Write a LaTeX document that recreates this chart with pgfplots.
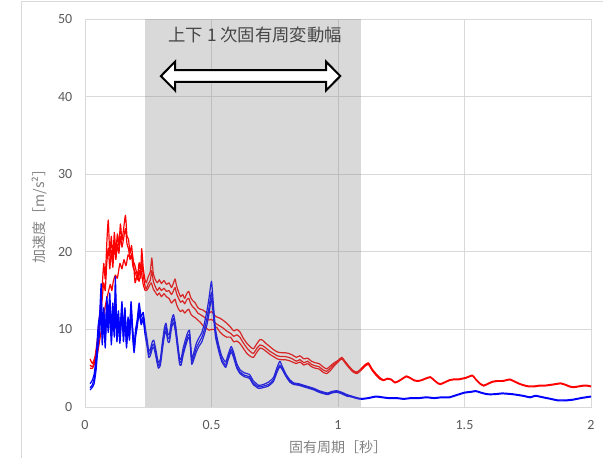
\documentclass[border=0pt]{standalone}
\usepackage{pgfplots}
\pgfplotsset{compat=1.18}
\usepackage{fontspec}
\setmainfont{Carlito}
\newfontfamily\cjk{Noto Sans CJK JP}
\definecolor{tickgray}{RGB}{89,89,89}
\definecolor{labgray}{RGB}{128,128,128}
\definecolor{gridgray}{RGB}{217,217,217}
\definecolor{anntext}{RGB}{70,70,70}
\begin{document}
\begin{tikzpicture}
\useasboundingbox (-63.75pt,-37.5pt) rectangle (388.5pt,305.25pt);
\draw[gridgray, line width=0.75pt] (-47.25pt,-40pt) -- (-47.25pt,303.75pt) -- (390pt,303.75pt);
\begin{axis}[
 scale only axis, width=379.5pt, height=291pt,
 xmin=0, xmax=2, ymin=0, ymax=50,
 xtick={0,0.5,1,1.5,2}, ytick={0,10,20,30,40,50},
 grid=major, major grid style={gridgray, line width=0.75pt},
 axis line style={gridgray, line width=0.75pt},
 tick style={draw=none},
 /pgf/number format/assume math mode=true,
 ticklabel style={font=\fontsize{10.5}{12}\selectfont, text=tickgray},
 xticklabel style={anchor=center, yshift=-13.5pt},
 yticklabel style={anchor=east, xshift=-6pt},
 xlabel={\cjk 固有周期［秒］}, ylabel={\cjk 加速度［m/s²］},
 label style={font=\fontsize{10.5}{12}\selectfont, text=labgray},
 xlabel style={at={(axis description cs:0.5,-0.103)}, anchor=center},
 ylabel style={at={(axis description cs:-0.089,0.5)}, anchor=center},
 every axis plot/.append style={line width=0.9pt, line join=round, smooth, tension=0.3},
]
% red upper
\addplot[red] coordinates {(0.020,6.2)(0.030,5.6)(0.040,6.6)(0.050,9.0)(0.058,12.0)(0.066,14.5)(0.074,18.5)(0.080,16.5)(0.086,21.0)(0.092,24.1)(0.098,19.5)(0.104,22.0)(0.110,19.2)(0.116,22.5)(0.122,20.0)(0.128,22.3)(0.134,20.8)(0.140,23.6)(0.146,21.5)(0.152,22.8)(0.160,24.7)(0.166,22.0)(0.172,21.6)(0.178,19.8)(0.184,20.8)(0.190,18.8)(0.196,18.4)(0.202,17.6)(0.208,17.0)(0.214,18.6)(0.220,17.4)(0.224,20.4)(0.230,18.0)(0.236,16.6)(0.242,16.0)(0.250,16.8)(0.258,17.4)(0.264,19.2)(0.270,17.2)(0.278,16.4)(0.286,16.0)(0.294,16.4)(0.302,15.9)(0.312,16.3)(0.322,15.8)(0.332,16.0)(0.342,15.4)(0.350,16.0)(0.356,16.5)(0.362,15.6)(0.370,14.8)(0.378,14.2)(0.386,14.5)(0.394,14.0)(0.402,14.6)(0.410,14.9)(0.418,14.1)(0.426,13.7)(0.436,13.4)(0.446,12.8)(0.456,12.6)(0.466,12.5)(0.478,12.2)(0.490,12.1)(0.500,12.3)(0.510,11.9)(0.520,11.6)(0.530,11.5)(0.545,11.2)(0.560,10.8)(0.575,10.3)(0.588,9.8)(0.600,10.0)(0.612,9.7)(0.625,8.9)(0.640,8.2)(0.655,7.7)(0.666,7.5)(0.680,8.2)(0.692,8.7)(0.702,8.6)(0.715,8.2)(0.730,7.8)(0.745,7.4)(0.760,7.1)(0.775,7.0)(0.790,7.0)(0.805,6.9)(0.820,6.7)(0.835,6.4)(0.850,6.6)(0.865,6.2)(0.880,6.3)(0.895,5.9)(0.910,5.7)(0.925,5.6)(0.940,5.2)(0.955,4.9)(0.970,5.3)(0.985,5.7)(1.000,6.0)(1.015,6.4)(1.030,5.8)(1.045,5.2)(1.060,4.7)(1.075,4.5)(1.090,4.9)(1.105,5.4)(1.120,5.7)(1.135,4.9)(1.150,4.3)(1.165,3.8)(1.180,3.5)(1.195,3.7)(1.210,3.6)(1.225,3.2)(1.240,3.4)(1.255,3.7)(1.270,4.0)(1.285,3.8)(1.300,3.5)(1.315,3.4)(1.330,3.5)(1.345,3.7)(1.365,3.9)(1.380,3.5)(1.395,3.1)(1.405,3.0)(1.420,3.2)(1.440,3.5)(1.456,3.6)(1.475,3.6)(1.490,3.7)(1.505,3.8)(1.520,4.0)(1.532,4.1)(1.545,3.6)(1.560,3.1)(1.575,2.8)(1.590,3.0)(1.610,3.3)(1.630,3.4)(1.650,3.4)(1.665,3.5)(1.680,3.6)(1.700,3.3)(1.720,3.0)(1.740,2.8)(1.755,2.7)(1.775,2.7)(1.795,2.8)(1.815,2.8)(1.840,2.9)(1.860,3.0)(1.880,3.1)(1.900,2.9)(1.915,2.7)(1.930,2.6)(1.950,2.7)(1.970,2.8)(1.985,2.8)(2.000,2.7)};
% red middle
\addplot[red] coordinates {(0.020,5.4)(0.030,5.2)(0.040,6.2)(0.050,8.2)(0.058,11.0)(0.066,13.2)(0.074,16.0)(0.080,15.0)(0.086,18.5)(0.092,20.5)(0.098,17.8)(0.104,20.2)(0.110,18.0)(0.116,21.0)(0.122,19.0)(0.128,21.0)(0.134,19.8)(0.140,22.0)(0.146,20.6)(0.152,21.6)(0.160,23.0)(0.166,21.0)(0.172,20.4)(0.178,19.0)(0.184,19.6)(0.190,18.0)(0.196,17.6)(0.202,17.0)(0.208,16.4)(0.214,17.6)(0.220,16.6)(0.224,18.8)(0.230,17.0)(0.236,15.8)(0.242,15.2)(0.250,15.9)(0.258,16.3)(0.264,17.6)(0.270,16.2)(0.278,15.5)(0.286,15.0)(0.294,15.4)(0.302,15.0)(0.312,15.3)(0.322,14.9)(0.332,15.0)(0.342,14.5)(0.350,15.0)(0.356,15.4)(0.362,14.6)(0.370,14.0)(0.378,13.5)(0.386,13.7)(0.394,13.3)(0.402,13.8)(0.410,14.0)(0.418,13.3)(0.426,12.9)(0.436,12.6)(0.446,12.1)(0.456,11.9)(0.466,11.7)(0.478,11.4)(0.490,11.2)(0.500,11.3)(0.510,11.0)(0.520,10.7)(0.530,10.5)(0.545,10.2)(0.560,9.8)(0.575,9.5)(0.588,9.1)(0.600,9.3)(0.612,9.0)(0.625,8.3)(0.640,7.6)(0.655,7.1)(0.666,6.9)(0.680,7.6)(0.692,8.0)(0.702,7.9)(0.715,7.6)(0.730,7.2)(0.745,6.9)(0.760,6.6)(0.775,6.5)(0.790,6.5)(0.805,6.4)(0.820,6.2)(0.835,5.9)(0.850,6.1)(0.865,5.7)(0.880,5.9)(0.895,5.5)(0.910,5.3)(0.925,5.2)(0.940,4.8)(0.955,4.6)(0.970,5.0)(0.985,5.5)(1.000,5.9)(1.015,6.3)(1.030,5.7)(1.045,5.1)(1.060,4.6)(1.075,4.4)(1.090,4.8)(1.105,5.3)(1.120,5.6)(1.135,4.8)(1.150,4.2)(1.165,3.7)(1.180,3.4)(1.195,3.6)(1.210,3.5)(1.225,3.1)(1.240,3.3)(1.255,3.6)(1.270,3.9)(1.285,3.7)(1.300,3.4)(1.315,3.3)(1.330,3.4)(1.345,3.6)(1.365,3.8)(1.380,3.4)(1.395,3.0)(1.405,2.9)(1.420,3.1)(1.440,3.4)(1.456,3.5)(1.475,3.5)(1.490,3.6)(1.505,3.7)(1.520,3.9)(1.532,4.0)(1.545,3.5)(1.560,3.0)(1.575,2.7)(1.590,2.9)(1.610,3.2)(1.630,3.3)(1.650,3.3)(1.665,3.4)(1.680,3.5)(1.700,3.2)(1.720,2.9)(1.740,2.7)(1.755,2.6)(1.775,2.6)(1.795,2.7)(1.815,2.7)(1.840,2.8)(1.860,2.9)(1.880,3.0)(1.900,2.8)(1.915,2.6)(1.930,2.5)(1.950,2.6)(1.970,2.7)(1.985,2.7)(2.000,2.6)};
% red lower
\addplot[red] coordinates {(0.020,5.0)(0.030,5.0)(0.040,5.8)(0.050,7.0)(0.060,9.0)(0.070,11.0)(0.080,13.0)(0.090,14.5)(0.100,15.8)(0.106,15.0)(0.112,16.2)(0.120,17.0)(0.128,16.6)(0.138,18.5)(0.146,17.8)(0.154,19.0)(0.162,18.2)(0.170,19.6)(0.178,19.2)(0.186,19.8)(0.192,18.5)(0.198,16.0)(0.206,17.0)(0.214,16.2)(0.222,17.5)(0.230,15.8)(0.238,15.0)(0.246,15.1)(0.254,15.6)(0.262,16.0)(0.270,15.2)(0.278,14.8)(0.286,14.4)(0.294,14.7)(0.302,14.2)(0.312,14.6)(0.322,14.2)(0.332,14.0)(0.342,13.4)(0.350,13.7)(0.356,13.9)(0.362,13.2)(0.370,12.6)(0.378,12.3)(0.386,12.5)(0.394,12.1)(0.402,12.4)(0.410,12.6)(0.418,12.0)(0.426,11.7)(0.436,11.5)(0.446,11.2)(0.456,10.9)(0.466,10.5)(0.478,10.2)(0.490,9.9)(0.500,10.0)(0.510,10.0)(0.520,10.3)(0.530,9.8)(0.545,9.3)(0.560,9.0)(0.575,9.0)(0.588,8.4)(0.600,8.5)(0.612,8.2)(0.625,7.6)(0.640,6.9)(0.655,6.5)(0.666,6.4)(0.680,7.1)(0.692,7.6)(0.702,7.5)(0.715,7.2)(0.730,6.8)(0.745,6.5)(0.760,6.2)(0.775,6.1)(0.790,6.1)(0.805,6.0)(0.820,5.8)(0.835,5.6)(0.850,5.8)(0.865,5.4)(0.880,5.6)(0.895,5.2)(0.910,5.0)(0.925,4.9)(0.940,4.5)(0.955,4.3)(0.970,4.7)(0.985,5.3)(1.000,5.8)(1.015,6.2)(1.030,5.6)(1.045,5.0)(1.060,4.5)(1.075,4.3)(1.090,4.7)(1.105,5.2)(1.120,5.5)(1.135,4.7)(1.150,4.1)(1.165,3.6)(1.180,3.4)};
% blue upper
\addplot[blue] coordinates {(0.020,3.0)(0.028,3.4)(0.036,4.2)(0.044,6.5)(0.052,10.5)(0.058,12.0)(0.064,15.9)(0.068,10.0)(0.074,12.8)(0.080,9.5)(0.086,14.2)(0.092,11.5)(0.098,14.7)(0.104,10.0)(0.110,13.4)(0.116,11.0)(0.120,16.8)(0.126,10.0)(0.132,12.4)(0.138,9.8)(0.146,13.6)(0.152,9.8)(0.158,12.8)(0.164,9.0)(0.170,11.6)(0.176,10.0)(0.182,13.6)(0.188,10.4)(0.194,8.0)(0.200,10.0)(0.206,11.2)(0.214,13.4)(0.222,11.6)(0.230,12.2)(0.238,10.3)(0.246,8.6)(0.252,7.2)(0.258,7.4)(0.266,8.4)(0.272,8.6)(0.280,7.4)(0.290,5.7)(0.298,6.2)(0.306,8.4)(0.314,10.2)(0.320,10.8)(0.328,9.4)(0.334,9.4)(0.342,11.2)(0.350,11.9)(0.358,10.6)(0.366,8.4)(0.374,6.3)(0.380,6.2)(0.388,7.6)(0.398,8.8)(0.406,9.6)(0.413,9.9)(0.418,8.0)(0.422,6.3)(0.430,7.0)(0.440,8.2)(0.452,9.0)(0.462,9.6)(0.472,10.8)(0.482,12.4)(0.490,14.0)(0.500,16.2)(0.508,13.0)(0.516,10.0)(0.527,8.2)(0.540,6.6)(0.556,5.8)(0.566,6.8)(0.578,7.8)(0.588,7.0)(0.600,5.6)(0.613,4.8)(0.630,4.4)(0.650,4.2)(0.665,3.4)(0.686,2.8)(0.705,2.9)(0.725,3.2)(0.745,3.8)(0.758,5.0)(0.770,5.9)(0.780,5.2)(0.795,4.2)(0.810,3.5)(0.825,3.1)(0.845,3.0)(0.865,2.8)(0.885,2.6)(0.905,2.4)(0.925,2.1)(0.945,1.9)(0.960,1.8)(0.975,2.0)(0.995,2.1)(1.015,1.9)(1.035,1.6)(1.055,1.4)(1.075,1.2)(1.095,1.1)(1.120,1.2)(1.150,1.4)(1.175,1.3)(1.200,1.2)(1.230,1.2)(1.260,1.1)(1.290,1.2)(1.320,1.2)(1.350,1.3)(1.380,1.2)(1.410,1.3)(1.440,1.3)(1.470,1.6)(1.500,1.9)(1.525,2.0)(1.545,2.1)(1.565,1.9)(1.590,1.7)(1.620,1.7)(1.650,1.8)(1.690,1.7)(1.730,1.5)(1.760,1.3)(1.780,1.5)(1.810,1.3)(1.840,1.1)(1.870,0.9)(1.900,0.9)(1.930,1.0)(1.960,1.2)(2.000,1.4)};
% blue middle
\addplot[blue] coordinates {(0.020,2.5)(0.028,2.8)(0.036,3.6)(0.044,5.6)(0.052,9.0)(0.058,11.0)(0.064,13.8)(0.068,9.0)(0.074,11.8)(0.080,8.8)(0.086,13.0)(0.092,10.5)(0.098,13.4)(0.104,9.0)(0.110,12.2)(0.116,10.0)(0.120,14.8)(0.126,9.2)(0.132,11.6)(0.138,9.0)(0.146,12.6)(0.152,9.0)(0.158,12.0)(0.164,8.2)(0.170,10.8)(0.176,9.2)(0.182,12.8)(0.188,9.8)(0.194,7.4)(0.200,9.4)(0.206,10.6)(0.214,12.6)(0.222,11.0)(0.230,11.6)(0.238,9.8)(0.246,8.1)(0.252,6.8)(0.258,7.0)(0.266,7.9)(0.272,8.1)(0.280,6.9)(0.290,5.3)(0.298,5.8)(0.306,7.9)(0.314,9.7)(0.320,10.3)(0.328,8.9)(0.334,8.9)(0.342,10.7)(0.350,11.4)(0.358,10.1)(0.366,7.9)(0.374,5.9)(0.380,5.8)(0.388,7.1)(0.398,8.3)(0.406,9.1)(0.413,9.4)(0.418,7.5)(0.422,5.9)(0.430,6.5)(0.440,7.6)(0.452,8.4)(0.462,9.0)(0.472,10.0)(0.482,11.4)(0.490,12.8)(0.500,14.8)(0.508,12.2)(0.516,9.5)(0.527,7.8)(0.540,6.2)(0.556,5.4)(0.566,6.4)(0.578,7.4)(0.588,6.6)(0.600,5.2)(0.613,4.5)(0.630,4.1)(0.650,3.9)(0.665,3.1)(0.686,2.6)(0.705,2.7)(0.725,2.9)(0.745,3.5)(0.758,4.6)(0.770,5.4)(0.780,4.9)(0.795,4.0)(0.810,3.3)(0.825,3.0)(0.845,2.9)(0.865,2.7)(0.885,2.5)(0.905,2.3)(0.925,2.0)(0.945,1.8)(0.960,1.7)(0.975,1.9)(0.995,2.0)(1.015,1.8)(1.035,1.5)(1.055,1.3)(1.075,1.1)(1.095,1.0)(1.120,1.1)(1.150,1.3)(1.175,1.2)(1.200,1.1)(1.230,1.1)(1.260,1.0)(1.290,1.1)(1.320,1.1)(1.350,1.2)(1.380,1.1)(1.410,1.2)(1.440,1.2)(1.470,1.5)(1.500,1.8)(1.525,1.9)(1.545,2.0)(1.565,1.8)(1.590,1.6)(1.620,1.6)(1.650,1.7)(1.690,1.6)(1.730,1.4)(1.760,1.2)(1.780,1.4)(1.810,1.2)(1.840,1.0)(1.870,0.8)(1.900,0.8)(1.930,0.9)(1.960,1.1)(2.000,1.3)};
% blue lower
\addplot[blue] coordinates {(0.020,2.2)(0.028,2.5)(0.036,3.0)(0.044,4.8)(0.052,8.0)(0.058,9.5)(0.064,12.5)(0.068,8.0)(0.074,11.0)(0.080,7.6)(0.086,12.0)(0.092,9.6)(0.098,12.4)(0.104,8.0)(0.110,11.4)(0.116,9.0)(0.120,13.4)(0.126,8.4)(0.132,10.8)(0.138,8.2)(0.146,11.8)(0.152,8.4)(0.158,11.2)(0.164,7.6)(0.170,10.2)(0.176,8.6)(0.182,12.0)(0.188,9.2)(0.194,7.0)(0.200,9.0)(0.206,10.2)(0.214,12.0)(0.222,10.6)(0.230,11.2)(0.238,9.2)(0.246,7.7)(0.252,6.4)(0.258,6.6)(0.266,7.5)(0.272,7.7)(0.280,6.5)(0.290,5.0)(0.298,5.4)(0.306,7.4)(0.314,9.2)(0.320,9.8)(0.328,8.4)(0.334,8.4)(0.342,10.2)(0.350,10.9)(0.358,9.6)(0.366,7.5)(0.374,5.5)(0.380,5.4)(0.388,6.7)(0.398,7.9)(0.406,8.7)(0.413,9.0)(0.418,7.1)(0.422,5.5)(0.430,6.1)(0.440,7.1)(0.452,7.9)(0.462,8.4)(0.472,9.4)(0.482,10.6)(0.490,12.0)(0.500,14.0)(0.508,11.6)(0.516,9.0)(0.527,7.4)(0.540,5.9)(0.556,5.1)(0.566,6.1)(0.578,7.1)(0.588,6.3)(0.600,5.0)(0.613,4.3)(0.630,3.9)(0.650,3.7)(0.665,2.9)(0.686,2.4)(0.705,2.5)(0.725,2.7)(0.745,3.3)(0.758,4.4)(0.770,5.2)(0.780,4.8)(0.795,3.9)(0.810,3.2)(0.825,2.9)(0.845,2.8)(0.865,2.6)(0.885,2.4)(0.905,2.2)(0.925,1.9)(0.945,1.7)(0.960,1.6)(0.975,1.8)(0.995,1.9)(1.015,1.7)(1.035,1.4)(1.055,1.3)(1.075,1.1)(1.095,1.0)};
% shaded band
\fill[gray, opacity=0.3] (axis cs:0.239,0) rectangle (axis cs:1.089,50);
% double arrow
\draw[black, fill=white, line width=1.5pt, line join=miter]
 (axis cs:0.300,42.65) -- (axis cs:0.356,44.5) -- (axis cs:0.356,43.4) -- (axis cs:0.953,43.4) -- (axis cs:0.953,44.5) -- (axis cs:1.009,42.65) -- (axis cs:0.953,40.8) -- (axis cs:0.953,41.9) -- (axis cs:0.356,41.9) -- (axis cs:0.356,40.8) -- cycle;
\node[font=\cjk\fontsize{13}{15}\selectfont, text=anntext] at (axis cs:0.673,47.9) {上下 1 次固有周変動幅};
\end{axis}
\end{tikzpicture}
\end{document}
